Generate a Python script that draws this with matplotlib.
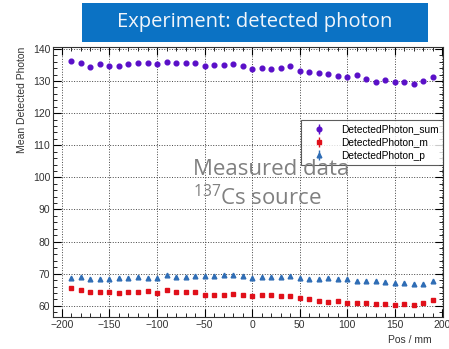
import matplotlib
matplotlib.use("Agg")
import matplotlib.pyplot as plt
from matplotlib.patches import Rectangle
from matplotlib.ticker import MultipleLocator
import numpy as np

# positions in mm
pos = list(range(-190, 200, 10))

photon_sum = [136.3, 135.7, 134.5, 135.2, 134.7, 134.6, 135.2, 135.7, 135.7, 135.3,
              136.0, 135.5, 135.7, 135.7, 134.8, 134.9, 135.0, 135.2, 134.8, 133.9,
              134.1, 133.8, 134.1, 134.6, 133.1, 132.7, 132.6, 132.1, 131.5, 131.3,
              131.8, 130.6, 129.8, 130.2, 129.7, 129.6, 129.2, 130.1, 131.4]
photon_m = [65.5, 64.9, 64.4, 64.4, 64.2, 64.0, 64.4, 64.3, 64.5, 64.1,
            64.8, 64.4, 64.4, 64.2, 63.4, 63.4, 63.4, 63.8, 63.4, 62.9,
            63.5, 63.2, 62.9, 63.0, 62.3, 62.1, 61.6, 61.1, 61.5, 61.0,
            61.0, 61.0, 60.4, 60.5, 60.2, 60.4, 60.2, 60.8, 61.7]
photon_p = [68.8, 68.9, 68.3, 68.3, 68.4, 68.6, 68.5, 69.1, 68.6, 68.6,
            69.6, 69.1, 69.1, 69.4, 69.4, 69.4, 69.5, 69.7, 69.2, 68.8,
            69.0, 69.0, 69.0, 69.3, 68.5, 68.4, 68.4, 68.7, 68.4, 68.2,
            67.7, 67.7, 67.7, 67.3, 67.2, 67.2, 66.8, 66.9, 67.8]

plt.rcParams['font.family'] = ['Liberation Sans', 'DejaVu Sans']

W, H = 449, 349
fig = plt.figure(figsize=(W / 100, H / 100), dpi=100)
ax = fig.add_axes([53 / W, 1 - 317 / H, 390 / W, 270 / H])

zeros = np.zeros(len(pos))
ax.errorbar(pos, photon_sum, yerr=zeros, fmt='o', color='#5a0fc8', ms=3.4,
            elinewidth=1, capsize=0, label='DetectedPhoton_sum')
ax.errorbar(pos, photon_m, yerr=zeros, fmt='s', color='#e0101a', ms=3.4,
            elinewidth=1, capsize=0, label='DetectedPhoton_m')
ax.errorbar(pos, photon_p, yerr=zeros, fmt='^', color='#2f6db5', ms=3.4,
            elinewidth=1, capsize=0, label='DetectedPhoton_p')

ax.set_xlim(-209.4, 200.8)
ax.set_ylim(56.5, 140.6)
ax.xaxis.set_major_locator(MultipleLocator(50))
ax.xaxis.set_minor_locator(MultipleLocator(10))
ax.yaxis.set_major_locator(MultipleLocator(10))
ax.yaxis.set_minor_locator(MultipleLocator(2))
ax.tick_params(which='both', direction='in', top=True, right=True,
               labelsize=7.5, labelcolor='#333333', pad=2)
ax.tick_params(which='major', length=6, width=0.8)
ax.tick_params(which='minor', length=3, width=0.6)
ax.grid(True, which='major', linestyle=':', color='#444444', linewidth=0.7)
for s in ax.spines.values():
    s.set_linewidth(0.8)
    s.set_color('#333333')

ax.set_ylabel('Mean Detected Photon', fontsize=7.5, color='#333333', loc='top')
fig.text(388 / W, 1 - 340 / H, 'Pos / mm', fontsize=7.5, color='#333333',
         ha='left', va='center')

leg = ax.legend(loc='upper right', bbox_to_anchor=(1.0, 0.73), fontsize=7.3,
                frameon=True, fancybox=False, edgecolor='#333333',
                borderpad=0.45, handletextpad=0.9, labelspacing=0.3,
                handlelength=2.6, borderaxespad=0)
leg.get_frame().set_linewidth(0.8)

fig.text(193 / W, 1 - 175 / H, 'Measured data', fontsize=16,
         family='Open Sans', color='#808080', ha='left', va='baseline')
fig.text(193 / W, 1 - 205 / H, r'$\mathregular{^{137}}$Cs source',
         fontsize=16, family='Open Sans', color='#808080', ha='left', va='baseline')

# title box
fig.patches.append(Rectangle((82 / W, 1 - 42 / H), 346 / W, 39 / H,
                             transform=fig.transFigure, facecolor='#0b72c4',
                             edgecolor='none'))
fig.text(255 / W, 1 - 22 / H, 'Experiment: detected photon', fontsize=14.5,
         family='Open Sans', color='#f2f6fb', ha='center', va='center')

fig.savefig('out.png', dpi=100)
